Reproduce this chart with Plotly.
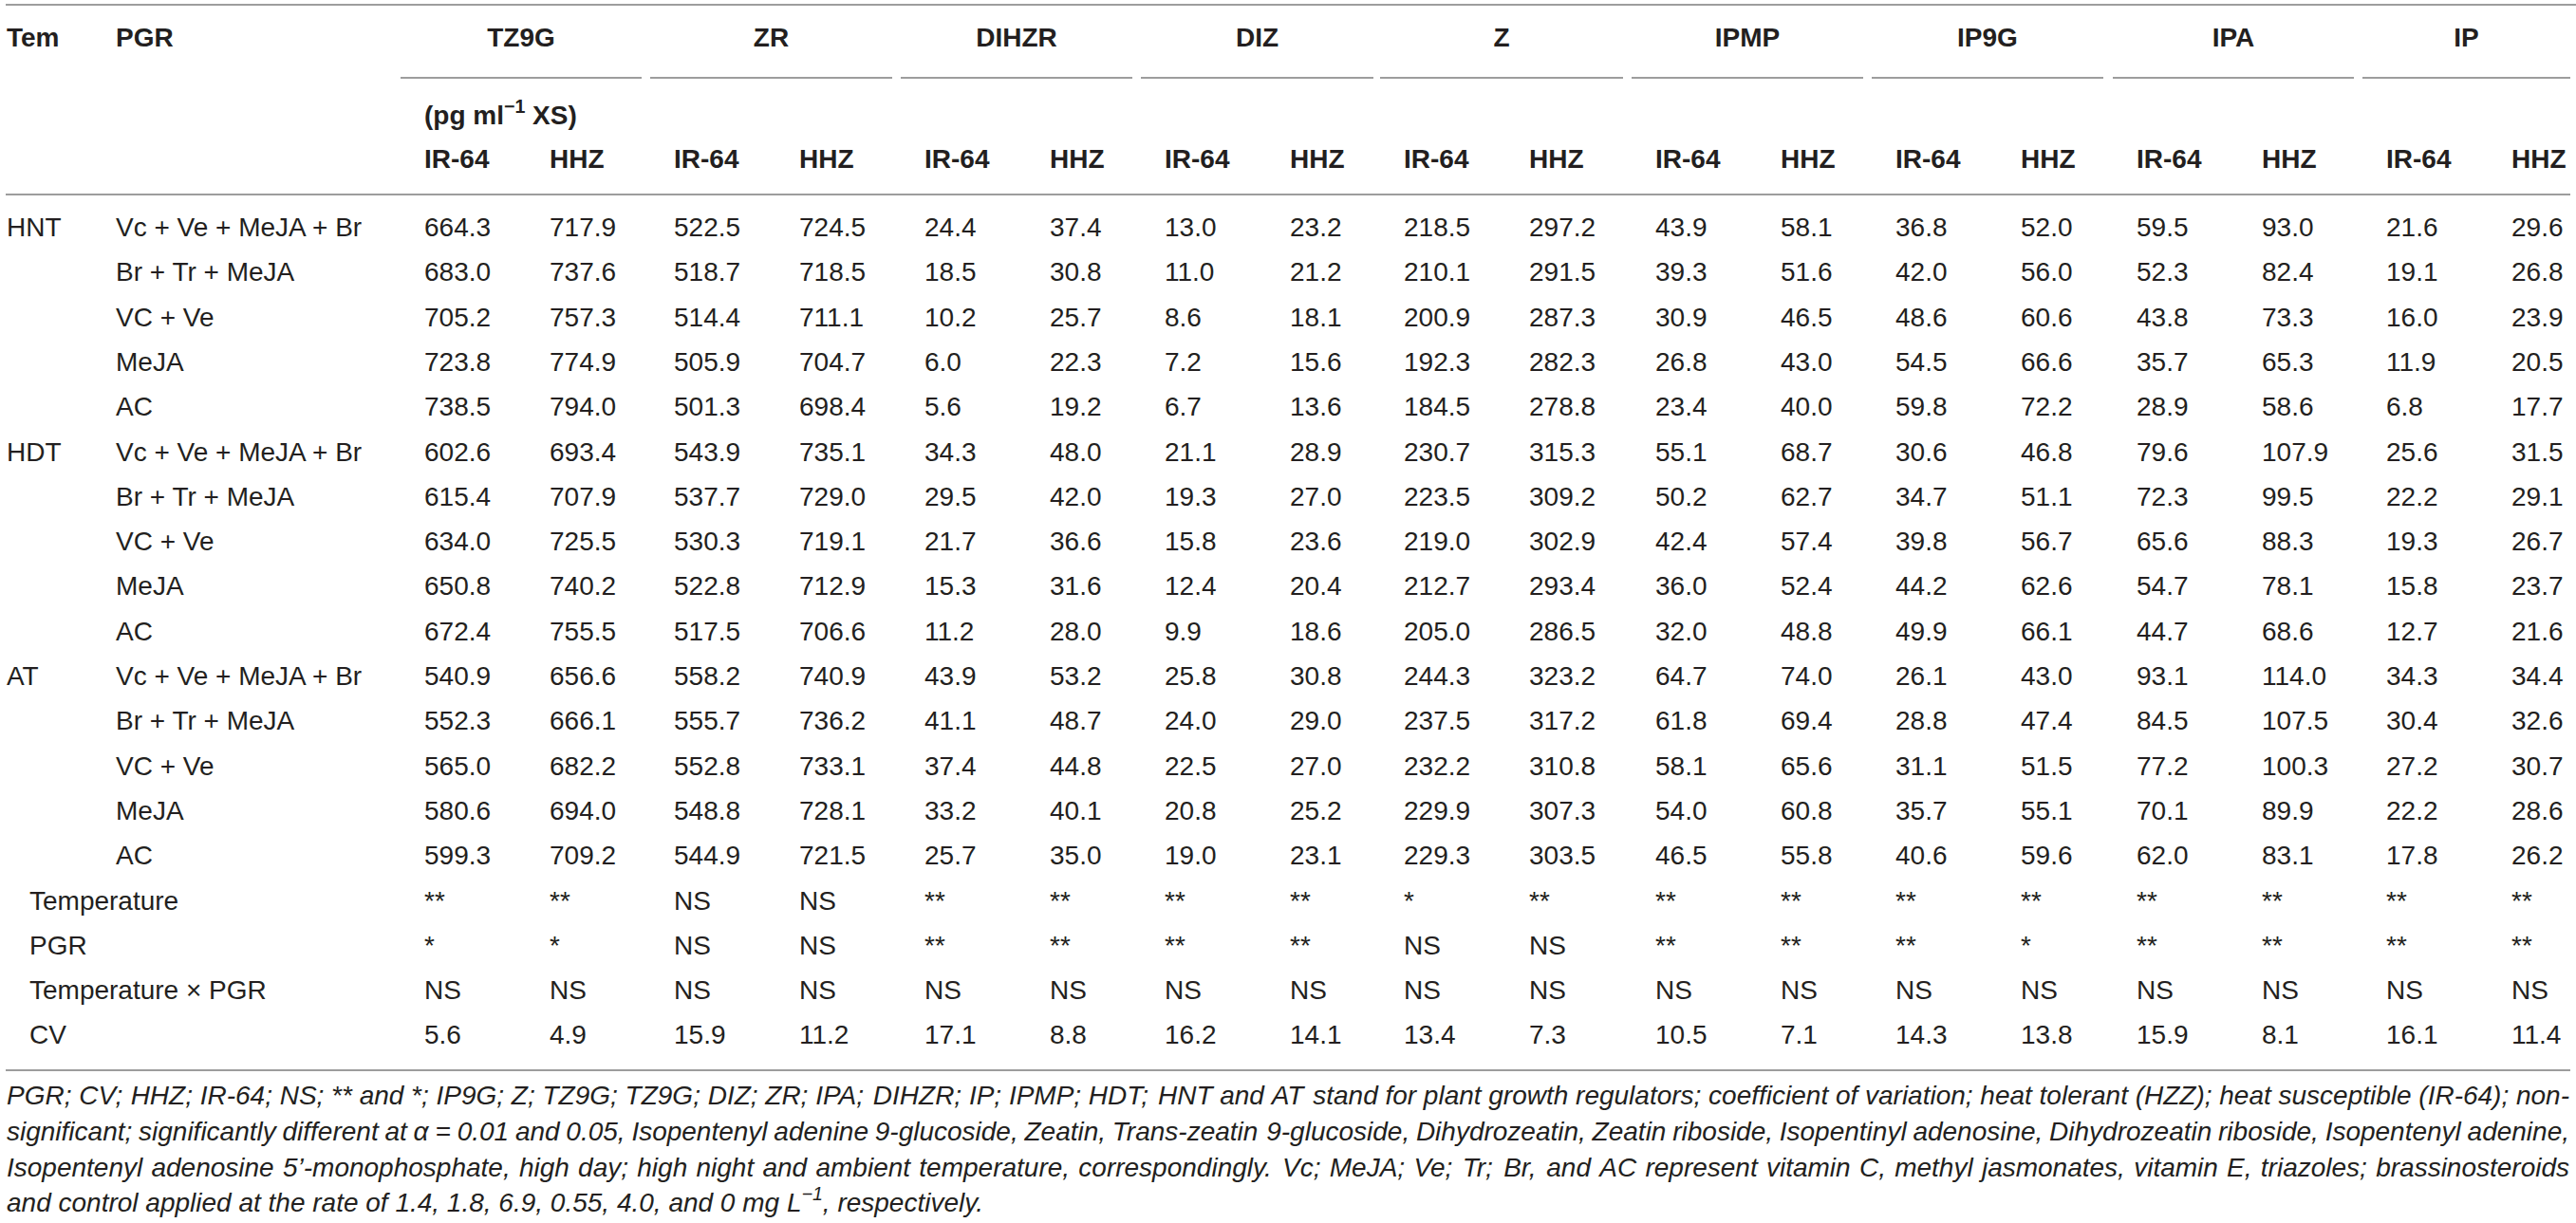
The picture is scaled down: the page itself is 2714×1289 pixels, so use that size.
import plotly.graph_objects as go

# ---- table content ----
hormones = ["TZ9G", "ZR", "DIHZR", "DIZ", "Z", "IPMP", "IP9G", "IPA", "IP"]
cultivars = ["IR-64", "HHZ"]
temps = ["HNT", "HDT", "AT"]
pgrs = ["Vc + Ve + MeJA + Br", "Br + Tr + MeJA", "VC + Ve", "MeJA", "AC"]
stat_labels = ["Temperature", "PGR", "Temperature \u00d7 PGR", "CV"]
unit_label = "(pg ml<sup>\u22121</sup> XS)"

# values per hormone / cultivar, rows = HNT x 5 PGR, HDT x 5, AT x 5
tz9g_ir64 = [664.3, 683.0, 705.2, 723.8, 738.5, 602.6, 615.4, 634.0, 650.8, 672.4, 540.9, 552.3, 565.0, 580.6, 599.3]
tz9g_hhz = [717.9, 737.6, 757.3, 774.9, 794.0, 693.4, 707.9, 725.5, 740.2, 755.5, 656.6, 666.1, 682.2, 694.0, 709.2]
zr_ir64 = [522.5, 518.7, 514.4, 505.9, 501.3, 543.9, 537.7, 530.3, 522.8, 517.5, 558.2, 555.7, 552.8, 548.8, 544.9]
zr_hhz = [724.5, 718.5, 711.1, 704.7, 698.4, 735.1, 729.0, 719.1, 712.9, 706.6, 740.9, 736.2, 733.1, 728.1, 721.5]
dihzr_ir64 = [24.4, 18.5, 10.2, 6.0, 5.6, 34.3, 29.5, 21.7, 15.3, 11.2, 43.9, 41.1, 37.4, 33.2, 25.7]
dihzr_hhz = [37.4, 30.8, 25.7, 22.3, 19.2, 48.0, 42.0, 36.6, 31.6, 28.0, 53.2, 48.7, 44.8, 40.1, 35.0]
diz_ir64 = [13.0, 11.0, 8.6, 7.2, 6.7, 21.1, 19.3, 15.8, 12.4, 9.9, 25.8, 24.0, 22.5, 20.8, 19.0]
diz_hhz = [23.2, 21.2, 18.1, 15.6, 13.6, 28.9, 27.0, 23.6, 20.4, 18.6, 30.8, 29.0, 27.0, 25.2, 23.1]
z_ir64 = [218.5, 210.1, 200.9, 192.3, 184.5, 230.7, 223.5, 219.0, 212.7, 205.0, 244.3, 237.5, 232.2, 229.9, 229.3]
z_hhz = [297.2, 291.5, 287.3, 282.3, 278.8, 315.3, 309.2, 302.9, 293.4, 286.5, 323.2, 317.2, 310.8, 307.3, 303.5]
ipmp_ir64 = [43.9, 39.3, 30.9, 26.8, 23.4, 55.1, 50.2, 42.4, 36.0, 32.0, 64.7, 61.8, 58.1, 54.0, 46.5]
ipmp_hhz = [58.1, 51.6, 46.5, 43.0, 40.0, 68.7, 62.7, 57.4, 52.4, 48.8, 74.0, 69.4, 65.6, 60.8, 55.8]
ip9g_ir64 = [36.8, 42.0, 48.6, 54.5, 59.8, 30.6, 34.7, 39.8, 44.2, 49.9, 26.1, 28.8, 31.1, 35.7, 40.6]
ip9g_hhz = [52.0, 56.0, 60.6, 66.6, 72.2, 46.8, 51.1, 56.7, 62.6, 66.1, 43.0, 47.4, 51.5, 55.1, 59.6]
ipa_ir64 = [59.5, 52.3, 43.8, 35.7, 28.9, 79.6, 72.3, 65.6, 54.7, 44.7, 93.1, 84.5, 77.2, 70.1, 62.0]
ipa_hhz = [93.0, 82.4, 73.3, 65.3, 58.6, 107.9, 99.5, 88.3, 78.1, 68.6, 114.0, 107.5, 100.3, 89.9, 83.1]
ip_ir64 = [21.6, 19.1, 16.0, 11.9, 6.8, 25.6, 22.2, 19.3, 15.8, 12.7, 34.3, 30.4, 27.2, 22.2, 17.8]
ip_hhz = [29.6, 26.8, 23.9, 20.5, 17.7, 31.5, 29.1, 26.7, 23.7, 21.6, 34.4, 32.6, 30.7, 28.6, 26.2]

# ANOVA rows, 18 columns (IR-64, HHZ for each hormone)
sig_temperature = ["**", "**", "NS", "NS", "**", "**", "**", "**", "*", "**",
                   "**", "**", "**", "**", "**", "**", "**", "**"]
sig_pgr = ["*", "*", "NS", "NS", "**", "**", "**", "**", "NS", "NS",
           "**", "**", "**", "*", "**", "**", "**", "**"]
sig_interaction = ["NS"] * 18
cv = [5.6, 4.9, 15.9, 11.2, 17.1, 8.8, 16.2, 14.1, 13.4, 7.3,
      10.5, 7.1, 14.3, 13.8, 15.9, 8.1, 16.1, 11.4]

# footnote, one string per printed line (first three are justified)
footnote = [
    "PGR; CV; HHZ; IR-64; NS; ** and *; IP9G; Z; TZ9G; TZ9G; DIZ; ZR; IPA; DIHZR; IP; IPMP; HDT; HNT and AT stand for "
    "plant growth regulators; coefficient of variation; heat tolerant (HZZ); heat susceptible (IR-64); non-",
    "significant; significantly different at \u03b1 = 0.01 and 0.05, Isopentenyl adenine 9-glucoside, Zeatin, "
    "Trans-zeatin 9-glucoside, Dihydrozeatin, Zeatin riboside, Isopentinyl adenosine, Dihydrozeatin riboside, "
    "Isopentenyl adenine,",
    "Isopentenyl adenosine 5\u2019-monophosphate, high day; high night and ambient temperature, correspondingly. "
    "Vc; MeJA; Ve; Tr; Br, and AC represent vitamin C, methyl jasmonates, vitamin E, triazoles; brassinosteroids",
    "and control applied at the rate of 1.4, 1.8, 6.9, 0.55, 4.0, and 0 mg L<sup>\u22121</sup>, respectively.",
]

value_cols = [tz9g_ir64, tz9g_hhz, zr_ir64, zr_hhz, dihzr_ir64, dihzr_hhz, diz_ir64, diz_hhz,
              z_ir64, z_hhz, ipmp_ir64, ipmp_hhz, ip9g_ir64, ip9g_hhz, ipa_ir64, ipa_hhz, ip_ir64, ip_hhz]

# ---- layout geometry (page pixels) ----
W, H = 2714, 1289
FONT = "Liberation Sans, Arial, Helvetica, sans-serif"
INK = "#231f20"
RULE = "#9d9d9d"
SIZE = 28
group_left = [422, 685, 949, 1202, 1454, 1719, 1972, 2226, 2489]
group_right = [676, 940, 1193, 1447, 1710, 1963, 2216, 2480, 2708]
col_x = []
for gl in group_left:
    col_x += [gl + 25, gl + 157]
row0, row_step = 242, 47.3
row_y = [row0 + i * row_step for i in range(len(pgrs) * len(temps) + len(stat_labels))]
x_tem, x_pgr, x_stat = 7, 122, 31
foot_left, foot_right = 7, 2707
foot_y = [1157, 1195, 1233, 1270]

# Arial / Liberation Sans advance widths (1/1000 em), used to justify the footnote
ADV = dict(zip(" ;,.()-*=", [278, 278, 278, 278, 333, 333, 333, 389, 584]))
ADV.update(dict(zip("0123456789", [556] * 10)))
ADV.update(dict(zip("ABCDEFGHIJKLMNOPQRSTUVWXYZ",
                    [667, 667, 722, 722, 667, 611, 778, 722, 278, 500, 667, 556, 833,
                     722, 778, 667, 778, 722, 667, 611, 722, 667, 944, 667, 667, 611])))
ADV.update(dict(zip("abcdefghijklmnopqrstuvwxyz",
                    [556, 556, 500, 556, 556, 278, 556, 556, 222, 222, 500, 222, 833,
                     556, 556, 556, 556, 333, 500, 278, 556, 500, 722, 500, 500, 500])))
ADV.update({"\u03b1": 578, "\u2019": 222})


def text_width(s, size):
    return sum(ADV.get(ch, 556) for ch in s) * size / 1000.0


fig = go.Figure()


def add_text(xs, ys, texts, size=SIZE, bold=False, italic=False, pos="middle right", color=INK):
    fig.add_trace(go.Scatter(
        x=xs, y=ys, text=texts, mode="text", textposition=pos,
        textfont=dict(family=FONT, size=size, color=color,
                      weight="bold" if bold else "normal",
                      style="italic" if italic else "normal"),
        hoverinfo="skip", showlegend=False, cliponaxis=False))


# header
add_text([x_tem, x_pgr], [42, 42], ["Tem", "PGR"], bold=True)
centers = [(a + b) / 2 for a, b in zip(group_left, group_right)]
add_text(centers, [42] * len(hormones), hormones, bold=True, pos="middle center")
add_text([col_x[0]], [124], [unit_label], bold=True)
add_text(col_x, [170] * len(col_x), cultivars * len(hormones), bold=True)

# row labels
n_pgr = len(pgrs)
add_text([x_tem] * len(temps), [row_y[i * n_pgr] for i in range(len(temps))], temps)
add_text([x_pgr] * (n_pgr * len(temps)), row_y[:n_pgr * len(temps)], pgrs * len(temps))
stat_y = row_y[n_pgr * len(temps):]
add_text([x_stat] * len(stat_labels), stat_y, stat_labels)

# cells
for j, col in enumerate(value_cols):
    add_text([col_x[j]] * len(col), row_y[:len(col)], [f"{v:.1f}" for v in col])
    stats = [sig_temperature[j], sig_pgr[j], sig_interaction[j], f"{cv[j]:.1f}"]
    add_text([col_x[j]] * len(stats), stat_y, stats)

# footnote: justified lines are laid out word by word
for k, (line, y) in enumerate(zip(footnote, foot_y)):
    if k == len(footnote) - 1:
        add_text([foot_left], [y], [line], italic=True)
        continue
    words = line.split(" ")
    widths = [text_width(w, SIZE) for w in words]
    gap = (foot_right - foot_left - sum(widths)) / (len(words) - 1)
    xs, x = [], foot_left
    for w in widths:
        xs.append(x)
        x += w + gap
    add_text(xs, [y] * len(words), words, italic=True)

# rules
shapes = [
    dict(type="line", x0=6, x1=W, y0=5, y1=5),
    dict(type="line", x0=6, x1=2708, y0=205, y1=205),
    dict(type="line", x0=6, x1=2708, y0=1128, y1=1128),
]
for a, b in zip(group_left, group_right):
    shapes.append(dict(type="line", x0=a, x1=b, y0=82, y1=82))
for s in shapes:
    s.update(xref="x", yref="y", line=dict(color=RULE, width=2), layer="below")

fig.update_layout(
    width=W, height=H,
    margin=dict(l=0, r=0, t=0, b=0),
    paper_bgcolor="white", plot_bgcolor="white",
    xaxis=dict(range=[0, W], visible=False, fixedrange=True),
    yaxis=dict(range=[H, 0], visible=False, fixedrange=True),
    shapes=shapes,
)

fig.write_html("out.html", config={"displayModeBar": False},
               post_script="document.body.style.margin = '0';")
